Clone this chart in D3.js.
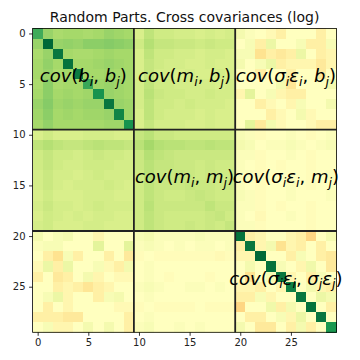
<!DOCTYPE html>
<html>
<head>
<meta charset="utf-8">
<script src="https://cdn.jsdelivr.net/npm/d3@7"></script>
<style>
  html, body { margin: 0; padding: 0; background: #fff; }
  svg { display: block; }
  text { font-family: "DejaVu Sans", sans-serif; }
</style>
</head>
<body>
<svg id="chart" width="360" height="360"></svg>
<script>
// ---- Data: normalized log covariance (0 = lowest, 1 = highest) ----
const groups = ["b", "m", "sigma_eps"];
const tickValues = [0, 5, 10, 15, 20, 25];
const title = "Random Parts. Cross covariances (log)";

const diagB = [0.85, 1.00, 0.97, 0.98, 0.96, 0.86, 0.91, 0.97, 0.94, 0.91];
const diagM = [0.64, 0.70, 0.65, 0.64, 0.64, 0.64, 0.64, 0.65, 0.64, 0.64];
const diagS = [0.98, 0.97, 1.00, 0.98, 0.97, 0.95, 0.97, 0.98, 0.97, 0.90];

// upper triangles (row i, columns i+1..9)
const bbUpper = [
  [0.72, 0.69, 0.70, 0.70, 0.69, 0.70, 0.72, 0.71, 0.70],
  [0.72, 0.73, 0.72, 0.74, 0.74, 0.75, 0.74, 0.73],
  [0.70, 0.69, 0.69, 0.70, 0.71, 0.70, 0.70],
  [0.70, 0.70, 0.71, 0.72, 0.71, 0.70],
  [0.70, 0.70, 0.71, 0.70, 0.70],
  [0.71, 0.72, 0.71, 0.70],
  [0.72, 0.71, 0.70],
  [0.72, 0.71],
  [0.71]
];
const mmUpper = [
  [0.66, 0.63, 0.63, 0.62, 0.62, 0.62, 0.62, 0.62, 0.62],
  [0.67, 0.66, 0.66, 0.65, 0.65, 0.66, 0.65, 0.65],
  [0.64, 0.63, 0.63, 0.63, 0.63, 0.63, 0.63],
  [0.63, 0.63, 0.62, 0.63, 0.62, 0.62],
  [0.63, 0.62, 0.63, 0.62, 0.62],
  [0.63, 0.63, 0.62, 0.63],
  [0.63, 0.62, 0.62],
  [0.63, 0.63],
  [0.62]
];
const ssUpper = [
  [0.45, 0.47, 0.50, 0.50, 0.47, 0.45, 0.38, 0.50, 0.53],
  [0.47, 0.53, 0.41, 0.47, 0.45, 0.50, 0.45, 0.50],
  [0.50, 0.50, 0.45, 0.52, 0.50, 0.45, 0.43],
  [0.52, 0.50, 0.47, 0.54, 0.50, 0.43],
  [0.47, 0.50, 0.45, 0.52, 0.50],
  [0.50, 0.53, 0.47, 0.45],
  [0.50, 0.55, 0.53],
  [0.50, 0.45],
  [0.50]
];
// rows b0..b9, cols m0..m9
const bm = [
  [0.60, 0.65, 0.62, 0.62, 0.61, 0.61, 0.60, 0.61, 0.60, 0.61],
  [0.62, 0.67, 0.64, 0.64, 0.63, 0.63, 0.62, 0.63, 0.62, 0.62],
  [0.60, 0.65, 0.62, 0.62, 0.61, 0.61, 0.60, 0.61, 0.61, 0.60],
  [0.60, 0.64, 0.62, 0.61, 0.61, 0.60, 0.60, 0.61, 0.60, 0.60],
  [0.60, 0.64, 0.61, 0.61, 0.60, 0.61, 0.60, 0.60, 0.61, 0.60],
  [0.61, 0.65, 0.62, 0.62, 0.61, 0.61, 0.61, 0.61, 0.60, 0.61],
  [0.61, 0.66, 0.63, 0.62, 0.62, 0.61, 0.61, 0.62, 0.61, 0.61],
  [0.61, 0.65, 0.62, 0.62, 0.61, 0.62, 0.61, 0.61, 0.61, 0.60],
  [0.60, 0.65, 0.62, 0.61, 0.61, 0.61, 0.60, 0.61, 0.60, 0.60],
  [0.60, 0.64, 0.61, 0.61, 0.61, 0.60, 0.60, 0.61, 0.60, 0.60]
];
// rows s0..s9, cols b0..b9
const sb = [
  [0.53, 0.50, 0.52, 0.53, 0.50, 0.50, 0.47, 0.50, 0.50, 0.50],
  [0.51, 0.52, 0.52, 0.50, 0.50, 0.50, 0.57, 0.50, 0.50, 0.57],
  [0.50, 0.45, 0.41, 0.52, 0.45, 0.50, 0.50, 0.45, 0.50, 0.43],
  [0.48, 0.55, 0.45, 0.55, 0.50, 0.50, 0.52, 0.48, 0.45, 0.53],
  [0.45, 0.50, 0.43, 0.45, 0.50, 0.53, 0.47, 0.50, 0.48, 0.48],
  [0.50, 0.50, 0.45, 0.47, 0.45, 0.42, 0.45, 0.47, 0.50, 0.50],
  [0.50, 0.52, 0.55, 0.47, 0.50, 0.50, 0.45, 0.52, 0.53, 0.50],
  [0.50, 0.45, 0.50, 0.47, 0.50, 0.50, 0.50, 0.50, 0.48, 0.48],
  [0.45, 0.45, 0.45, 0.43, 0.43, 0.50, 0.50, 0.50, 0.50, 0.45],
  [0.50, 0.52, 0.47, 0.47, 0.50, 0.53, 0.50, 0.53, 0.50, 0.45]
];
// rows m0..m9, cols s0..s9
const ms = [
  [0.52, 0.51, 0.49, 0.50, 0.50, 0.51, 0.50, 0.49, 0.50, 0.51],
  [0.53, 0.52, 0.50, 0.51, 0.51, 0.52, 0.51, 0.50, 0.51, 0.52],
  [0.51, 0.51, 0.49, 0.50, 0.50, 0.51, 0.50, 0.49, 0.50, 0.50],
  [0.51, 0.50, 0.49, 0.50, 0.49, 0.50, 0.50, 0.49, 0.50, 0.50],
  [0.51, 0.51, 0.49, 0.50, 0.50, 0.50, 0.50, 0.49, 0.50, 0.51],
  [0.51, 0.50, 0.49, 0.50, 0.50, 0.51, 0.50, 0.49, 0.50, 0.50],
  [0.52, 0.51, 0.49, 0.50, 0.50, 0.51, 0.50, 0.50, 0.50, 0.51],
  [0.51, 0.51, 0.49, 0.50, 0.49, 0.50, 0.50, 0.49, 0.50, 0.50],
  [0.51, 0.50, 0.48, 0.50, 0.50, 0.51, 0.50, 0.49, 0.50, 0.50],
  [0.51, 0.51, 0.49, 0.50, 0.50, 0.50, 0.50, 0.49, 0.50, 0.50]
];

// annotation labels: [text, style] with style n=upright, i=italic, s=italic subscript
const annotations = [
  { x: 4.5,  y: 4.5,  parts: [["cov","i"],["(","n"],["b","i"],["i","s"],[", ","n"],["b","i"],["j","s"],[")","n"]] },
  { x: 14.5, y: 4.5,  parts: [["cov","i"],["(","n"],["m","i"],["i","s"],[", ","n"],["b","i"],["j","s"],[")","n"]] },
  { x: 24.5, y: 4.5,  parts: [["cov","i"],["(","n"],["σ","i"],["i","s"],["ε","i"],["i","s"],[", ","n"],["b","i"],["j","s"],[")","n"]] },
  { x: 14.5, y: 14.5, parts: [["cov","i"],["(","n"],["m","i"],["i","s"],[", ","n"],["m","i"],["j","s"],[")","n"]] },
  { x: 24.5, y: 14.5, parts: [["cov","i"],["(","n"],["σ","i"],["i","s"],["ε","i"],["i","s"],[", ","n"],["m","i"],["j","s"],[")","n"]] },
  { x: 24.5, y: 24.5, parts: [["cov","i"],["(","n"],["σ","i"],["i","s"],["ε","i"],["i","s"],[", ","n"],["σ","i"],["j","s"],["ε","i"],["j","s"],[")","n"]] }
];
const separators = [9.5, 19.5];

// ---- Build symmetric matrix ----
const N = 30;
const M = Array.from({length: N}, () => new Array(N).fill(0.5));
function setSym(i, j, v) { M[i][j] = v; M[j][i] = v; }
function fillUpper(off, diag, upper) {
  diag.forEach((v, k) => setSym(off + k, off + k, v));
  upper.forEach((row, i) => row.forEach((v, k) => setSym(off + i, off + i + 1 + k, v)));
}
fillUpper(0, diagB, bbUpper);
fillUpper(10, diagM, mmUpper);
fillUpper(20, diagS, ssUpper);
bm.forEach((row, i) => row.forEach((v, j) => setSym(i, 10 + j, v)));
sb.forEach((row, i) => row.forEach((v, j) => setSym(20 + i, j, v)));
ms.forEach((row, i) => row.forEach((v, j) => setSym(10 + i, 20 + j, v)));

const cells = [];
for (let i = 0; i < N; i++) for (let j = 0; j < N; j++) cells.push({ r: i, c: j, v: M[i][j] });

// ---- Scales ----
const pLeft = 32.6, pRight = 336.5, pTop = 28.4, pBottom = 332.3;
const x = d3.scaleLinear().domain([-0.5, N - 0.5]).range([pLeft, pRight]);
const y = d3.scaleLinear().domain([-0.5, N - 0.5]).range([pTop, pBottom]);
const rdylgn = ["#a50026","#d73027","#f46d43","#fdae61","#fee08b","#ffffbf","#d9ef8b","#a6d96a","#66bd63","#1a9850","#006837"];
const color = d3.scaleLinear().domain(d3.range(11).map(k => k / 10)).range(rdylgn).interpolate(d3.interpolateRgb).clamp(true);

const svg = d3.select("#chart");

svg.append("g").attr("shape-rendering", "crispEdges")
  .selectAll("rect").data(cells).join("rect")
  .attr("x", d => x(d.c - 0.5))
  .attr("y", d => y(d.r - 0.5))
  .attr("width", d => x(d.c + 0.5) - x(d.c - 0.5) + 0.5)
  .attr("height", d => y(d.r + 0.5) - y(d.r - 0.5) + 0.5)
  .attr("fill", d => color(d.v));

// separators
const sepG = svg.append("g").attr("stroke", "#222").attr("stroke-width", 1.8);
separators.forEach(s => {
  sepG.append("line").attr("x1", x(s)).attr("x2", x(s)).attr("y1", y(-0.5)).attr("y2", y(N - 0.5));
  sepG.append("line").attr("y1", y(s)).attr("y2", y(s)).attr("x1", x(-0.5)).attr("x2", x(N - 0.5));
});

// annotations
annotations.forEach(a => {
  const t = svg.append("text")
    .attr("x", x(a.x)).attr("y", y(a.y) + 3)
    .attr("text-anchor", "middle")
    .attr("font-size", 18).attr("fill", "#000");
  let shifted = false;
  a.parts.forEach(([s, st]) => {
    const ts = t.append("tspan").text(s);
    if (st === "i" || st === "s") ts.attr("font-style", "italic");
    if (st === "s") { ts.attr("font-size", 12.6); if (!shifted) { ts.attr("dy", 3.5); shifted = true; } }
    else if (shifted) { ts.attr("dy", -3.5); shifted = false; }
  });
});

// axes
const xAxis = d3.axisBottom(x).tickValues(tickValues).tickSize(3.5).tickPadding(3.5);
const yAxis = d3.axisLeft(y).tickValues(tickValues).tickSize(3.5).tickPadding(3.5);
const gx = svg.append("g").attr("transform", `translate(0,${pBottom})`).call(xAxis);
const gy = svg.append("g").attr("transform", `translate(${pLeft},0)`).call(yAxis);
[gx, gy].forEach(g => {
  g.select(".domain").remove();
  g.selectAll("line").attr("stroke", "#000").attr("stroke-width", 0.8);
  g.selectAll("text").attr("font-family", "DejaVu Sans").attr("font-size", 10).attr("fill", "#222");
});

// frame
svg.append("rect").attr("x", pLeft).attr("y", pTop).attr("width", pRight - pLeft).attr("height", pBottom - pTop)
  .attr("fill", "none").attr("stroke", "#000").attr("stroke-width", 0.8);

// title
svg.append("text").attr("x", (pLeft + pRight) / 2).attr("y", 21.5)
  .attr("text-anchor", "middle").attr("font-size", 14).attr("fill", "#111").text(title);
</script>
</body>
</html>
